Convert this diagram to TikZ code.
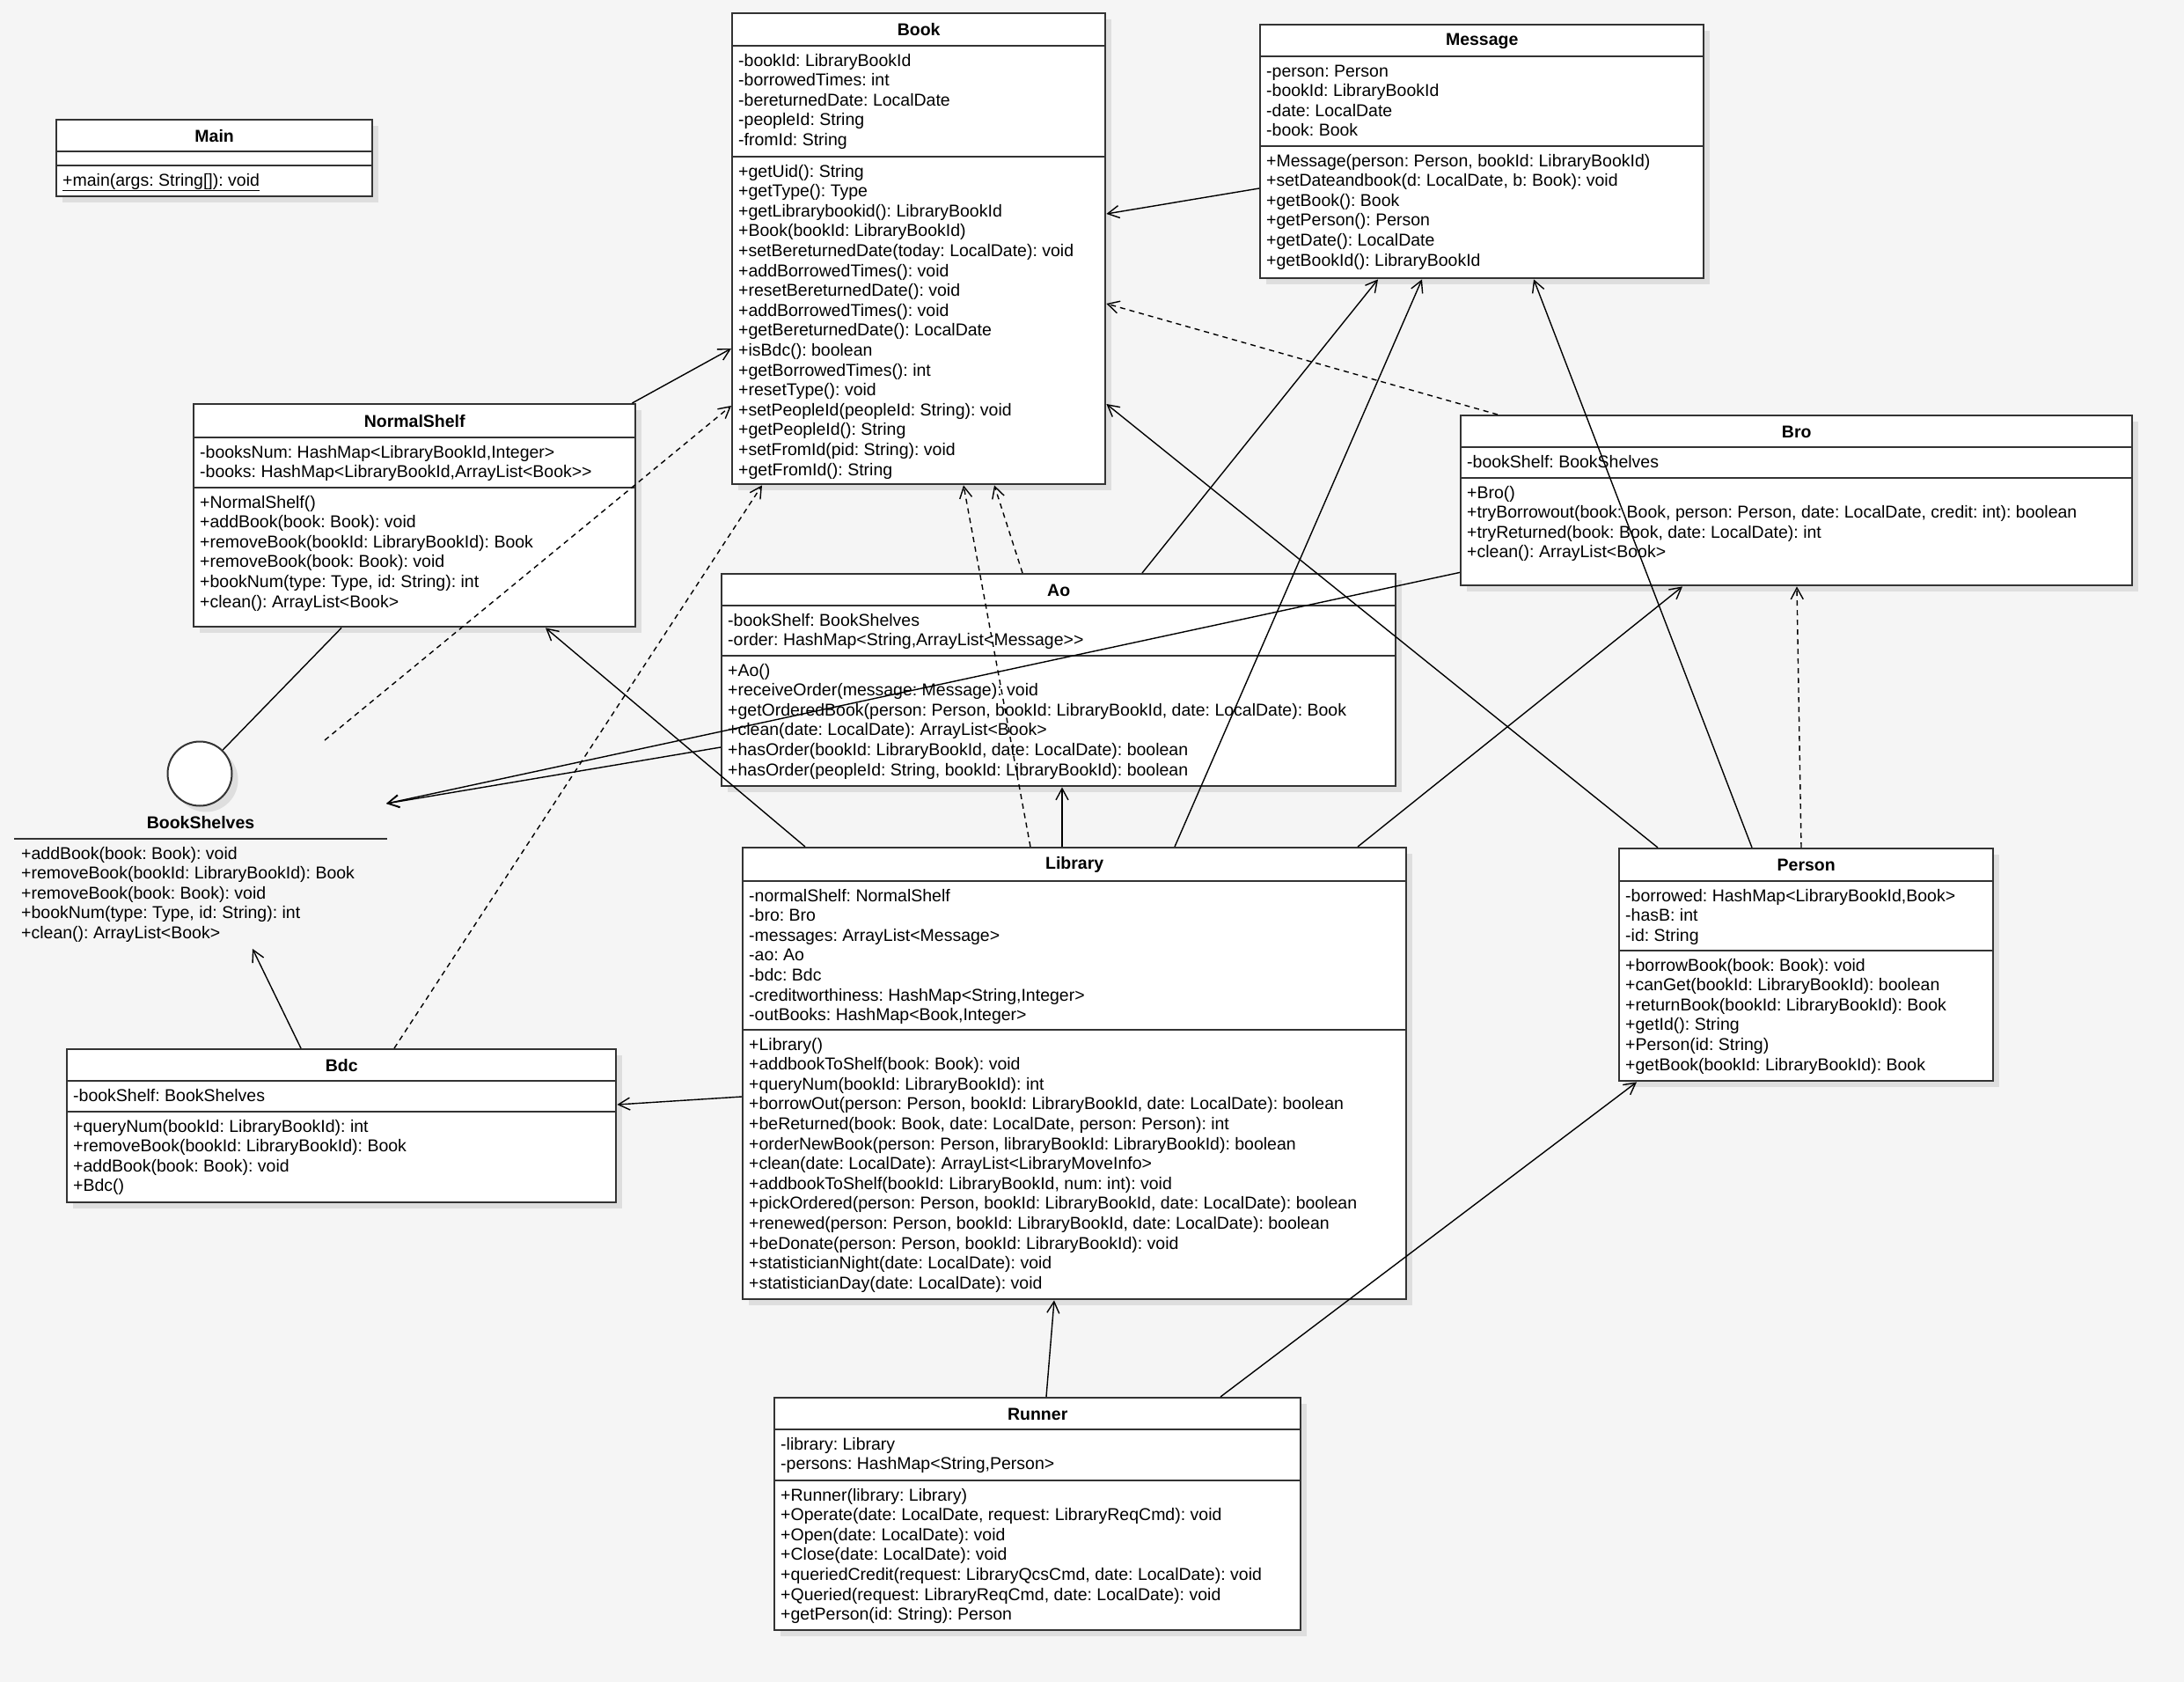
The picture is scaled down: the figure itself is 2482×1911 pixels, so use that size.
\documentclass[tikz,border=0pt]{standalone}
\usepackage{fontspec}
\setmainfont{Liberation Sans}
\usetikzlibrary{calc,arrows.meta,shadows}

\definecolor{umlline}{HTML}{333333}
\newcommand{\umlfont}{\fontsize{19.5}{22.6}\selectfont\frenchspacing}

\tikzset{
  classbox/.style={draw=umlline, line width=2.4pt, fill=white, anchor=north west, inner sep=0pt,
    drop shadow={shadow xshift=7pt, shadow yshift=-7pt, fill=black!13, opacity=1}},
  classtitle/.style={font=\umlfont\bfseries, inner sep=0pt},
  classline/.style={draw=umlline, line width=2.4pt},
  members/.style={font=\umlfont, anchor=north west, inner sep=0pt, align=left},
  iface/.style={circle, draw=umlline, line width=2pt, fill=white, inner sep=0pt,
    drop shadow={shadow xshift=7pt, shadow yshift=-7pt, fill=black!13, opacity=1}},
  assoc/.style={line width=1.4pt, -{Straight Barb[length=13pt,width=14pt]}},
  depend/.style={assoc, dash pattern=on 6pt off 5pt},
  realize/.style={line width=1.4pt}
}

% name, x, y, width, height, title height, attribute height, title
\newcommand{\umlclass}[8]{%
  \node[classbox, minimum width=#4, minimum height=#5] (#1) at (#2,#3) {};
  \node[classtitle] (#1-t) at ($(#1.north)+(0,#6/2+1)$) {#8};
  \draw[classline] ($(#1.north west)+(0,#6)$) -- ++(#4,0);
  \draw[classline] ($(#1.north west)+(0,#6+#7)$) -- ++(#4,0);
  \coordinate (#1-a) at ($(#1.north west)+(8,#6+7)$);
  \coordinate (#1-m) at ($(#1.north west)+(8,#6+#7+7)$);
}

\begin{document}
\begin{tikzpicture}[x=1pt,y=-1pt]
\useasboundingbox (0,0) rectangle (2482,1911);
\fill[black!4] (0,0) rectangle (2482,1911);

\umlclass{book}{831}{14}{424}{535}{38}{126}{Book}
\node[members] (book-attrs) at (book-a) {\strut -bookId: LibraryBookId\\ -borrowedTimes: int\\ -bereturnedDate: LocalDate\\ -peopleId: String\\ -fromId: String};
\node[members] (book-ops) at (book-m) {\strut +getUid(): String\\ +getType(): Type\\ +getLibrarybookid(): LibraryBookId\\ +Book(bookId: LibraryBookId)\\ +setBereturnedDate(today: LocalDate): void\\ +addBorrowedTimes(): void\\ +resetBereturnedDate(): void\\ +addBorrowedTimes(): void\\ +getBereturnedDate(): LocalDate\\ +isBdc(): boolean\\ +getBorrowedTimes(): int\\ +resetType(): void\\ +setPeopleId(peopleId: String): void\\ +getPeopleId(): String\\ +setFromId(pid: String): void\\ +getFromId(): String};

\umlclass{message}{1431}{27}{504}{288}{37}{102}{Message}
\node[members] (message-attrs) at (message-a) {\strut -person: Person\\ -bookId: LibraryBookId\\ -date: LocalDate\\ -book: Book};
\node[members] (message-ops) at (message-m) {\strut +Message(person: Person, bookId: LibraryBookId)\\ +setDateandbook(d: LocalDate, b: Book): void\\ +getBook(): Book\\ +getPerson(): Person\\ +getDate(): LocalDate\\ +getBookId(): LibraryBookId};

\umlclass{main}{63}{135}{359}{87}{37}{16}{Main}
\node[members] (main-ops) at (main-m) {\strut \underline{+main(args: String[]): void}};

\umlclass{normalshelf}{219}{458}{502}{253}{39}{57}{NormalShelf}
\node[members] (normalshelf-attrs) at (normalshelf-a) {\strut -booksNum: HashMap<LibraryBookId,Integer>\\ -books: HashMap<LibraryBookId,ArrayList<Book>{}>};
\node[members] (normalshelf-ops) at (normalshelf-m) {\strut +NormalShelf()\\ +addBook(book: Book): void\\ +removeBook(bookId: LibraryBookId): Book\\ +removeBook(book: Book): void\\ +bookNum(type: Type, id: String): int\\ +clean(): ArrayList<Book>};

\umlclass{bro}{1659}{471}{763}{193}{37}{35}{Bro}
\node[members] (bro-attrs) at (bro-a) {\strut -bookShelf: BookShelves};
\node[members] (bro-ops) at (bro-m) {\strut +Bro()\\ +tryBorrowout(book: Book, person: Person, date: LocalDate, credit: int): boolean\\ +tryReturned(book: Book, date: LocalDate): int\\ +clean(): ArrayList<Book>};

\umlclass{ao}{819}{651}{766}{241}{37}{57}{Ao}
\node[members] (ao-attrs) at (ao-a) {\strut -bookShelf: BookShelves\\ -order: HashMap<String,ArrayList<Message>{}>};
\node[members] (ao-ops) at (ao-m) {\strut +Ao()\\ +receiveOrder(message: Message): void\\ +getOrderedBook(person: Person, bookId: LibraryBookId, date: LocalDate): Book\\ +clean(date: LocalDate): ArrayList<Book>\\ +hasOrder(bookId: LibraryBookId, date: LocalDate): boolean\\ +hasOrder(peopleId: String, bookId: LibraryBookId): boolean};

\umlclass{library}{843}{962}{754}{513}{39}{169}{Library}
\node[members] (library-attrs) at (library-a) {\strut -normalShelf: NormalShelf\\ -bro: Bro\\ -messages: ArrayList<Message>\\ -ao: Ao\\ -bdc: Bdc\\ -creditworthiness: HashMap<String,Integer>\\ -outBooks: HashMap<Book,Integer>};
\node[members] (library-ops) at (library-m) {\strut +Library()\\ +addbookToShelf(book: Book): void\\ +queryNum(bookId: LibraryBookId): int\\ +borrowOut(person: Person, bookId: LibraryBookId, date: LocalDate): boolean\\ +beReturned(book: Book, date: LocalDate, person: Person): int\\ +orderNewBook(person: Person, libraryBookId: LibraryBookId): boolean\\ +clean(date: LocalDate): ArrayList<LibraryMoveInfo>\\ +addbookToShelf(bookId: LibraryBookId, num: int): void\\ +pickOrdered(person: Person, bookId: LibraryBookId, date: LocalDate): boolean\\ +renewed(person: Person, bookId: LibraryBookId, date: LocalDate): boolean\\ +beDonate(person: Person, bookId: LibraryBookId): void\\ +statisticianNight(date: LocalDate): void\\ +statisticianDay(date: LocalDate): void};

\umlclass{person}{1839}{963}{425}{264}{38}{79}{Person}
\node[members] (person-attrs) at (person-a) {\strut -borrowed: HashMap<LibraryBookId,Book>\\ -hasB: int\\ -id: String};
\node[members] (person-ops) at (person-m) {\strut +borrowBook(book: Book): void\\ +canGet(bookId: LibraryBookId): boolean\\ +returnBook(bookId: LibraryBookId): Book\\ +getId(): String\\ +Person(id: String)\\ +getBook(bookId: LibraryBookId): Book};

\umlclass{bdc}{75}{1191}{624}{174}{37}{35}{Bdc}
\node[members] (bdc-attrs) at (bdc-a) {\strut -bookShelf: BookShelves};
\node[members] (bdc-ops) at (bdc-m) {\strut +queryNum(bookId: LibraryBookId): int\\ +removeBook(bookId: LibraryBookId): Book\\ +addBook(book: Book): void\\ +Bdc()};

\umlclass{runner}{879}{1587}{598}{264}{37}{58}{Runner}
\node[members] (runner-attrs) at (runner-a) {\strut -library: Library\\ -persons: HashMap<String,Person>};
\node[members] (runner-ops) at (runner-m) {\strut +Runner(library: Library)\\ +Operate(date: LocalDate, request: LibraryReqCmd): void\\ +Open(date: LocalDate): void\\ +Close(date: LocalDate): void\\ +queriedCredit(request: LibraryQcsCmd, date: LocalDate): void\\ +Queried(request: LibraryReqCmd, date: LocalDate): void\\ +getPerson(id: String): Person};

% interface BookShelves
\node[iface, minimum size=73] (bs) at (227,879) {};
\node[classtitle] (bs-t) at (228,935) {BookShelves};
\draw[classline] (16,953) -- (440,953);
\node[members] (bs-ops) at (24,960) {\strut +addBook(book: Book): void\\ +removeBook(bookId: LibraryBookId): Book\\ +removeBook(book: Book): void\\ +bookNum(type: Type, id: String): int\\ +clean(): ArrayList<Book>};
\coordinate (bs-tip) at ($(bs)+(212,34)$);
\coordinate (bs-dep) at ($(bs)+(142,-38)$);

% connectors
\draw[assoc] ($(normalshelf.north east)+(-5,0)$) -- ($(book.north west)+(0,382)$);
\draw[depend] (bs-dep) -- ($(book.north west)+(0,447)$);
\draw[realize] (bs) -- ($(normalshelf.south west)+(169,0)$);
\draw[assoc] ($(bdc.north west)+(267,0)$) -- ($(bs)+(60,199)$);
\draw[depend] ($(bdc.north west)+(373,0)$) -- ($(book.south west)+(35,0)$);
\draw[assoc] ($(library.north west)+(0,284)$) -- ($(bdc.north east)+(0,64)$);
\draw[assoc] ($(library.north west)+(72,0)$) -- ($(normalshelf.south west)+(401,0)$);
\draw[assoc] ($(bro.south west)+(0,-16)$) -- (bs-tip);
\draw[assoc] ($(ao.north west)+(0,198)$) -- (bs-tip);
\draw[depend] ($(library.north west)+(328,0)$) -- ($(book.south west)+(264,0)$);
\draw[depend] ($(ao.north west)+(343,0)$) -- ($(book.south west)+(299,0)$);
\draw[assoc] ($(library.north west)+(364,0)$) -- ($(ao.south west)+(388,0)$);
\draw[assoc] ($(library.north west)+(492,0)$) -- ($(message.south west)+(185,0)$);
\draw[assoc] ($(ao.north west)+(479,0)$) -- ($(message.south west)+(135,0)$);
\draw[assoc] ($(library.north west)+(700,0)$) -- ($(bro.south west)+(253,0)$);
\draw[assoc] ($(person.north west)+(45,0)$) -- ($(book.north east)+(0,445)$);
\draw[assoc] ($(message.north west)+(0,187)$) -- ($(book.north east)+(0,229)$);
\draw[depend] ($(bro.north west)+(43,0)$) -- ($(book.north east)+(0,331)$);
\draw[assoc] ($(person.north west)+(152,0)$) -- ($(message.south west)+(312,0)$);
\draw[depend] ($(person.north west)+(208,0)$) -- ($(bro.south west)+(383,0)$);
\draw[assoc] ($(runner.north west)+(508,0)$) -- ($(person.south west)+(21,0)$);
\draw[assoc] ($(runner.north west)+(310,0)$) -- ($(library.south west)+(355,0)$);
\end{tikzpicture}
\end{document}
